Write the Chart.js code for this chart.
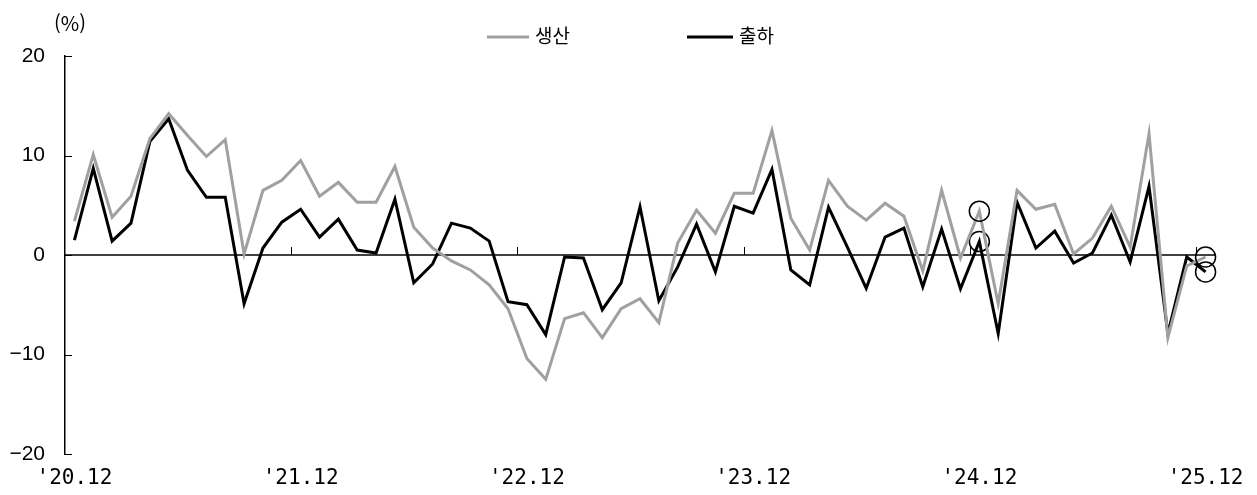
<!DOCTYPE html>
<html lang="ko">
<head>
<meta charset="utf-8">
<script src="https://cdn.jsdelivr.net/npm/chart.js@4.4.1/dist/chart.umd.min.js"></script>
<style>
  html, body { margin: 0; padding: 0; background: #fff; }
</style>
</head>
<body>
<canvas id="lineChart" width="1257" height="495"></canvas>
<script>
// 월 라벨 ('20.12 ~ '25.12)
var months = [];
for (var yr = 2020; yr <= 2025; yr++) {
    for (var mo = 1; mo <= 12; mo++) {
        if (yr === 2020 && mo < 12) continue;
        months.push("'" + String(yr).slice(2) + "." + (mo < 10 ? "0" + mo : mo));
    }
}
var tickLabels = ["'20.12", "'21.12", "'22.12", "'23.12", "'24.12", "'25.12"];

// 전년동월비 (%)
var production = [
    3.4, 10.1, 3.8, 5.9, 11.7, 14.2, 12.0, 9.9, 11.6, 0.1,
    6.5, 7.5, 9.5, 5.9, 7.3, 5.3, 5.3, 8.9, 2.8, 0.7,
    -0.6, -1.5, -3.0, -5.4, -10.4, -12.5, -6.4, -5.8, -8.3, -5.4,
    -4.4, -6.8, 1.2, 4.5, 2.2, 6.2, 6.2, 12.5, 3.7, 0.5,
    7.5, 4.9, 3.5, 5.2, 3.9, -1.6, 6.5, -0.3, 4.4, -4.9,
    6.5, 4.6, 5.1, 0.1, 1.7, 4.9, 0.8, 12.2, -8.3, -1.1, -0.2
];
var shipment = [
    1.5, 8.7, 1.4, 3.2, 11.4, 13.7, 8.5, 5.8, 5.8, -4.9,
    0.7, 3.3, 4.6, 1.8, 3.6, 0.5, 0.2, 5.6, -2.8, -0.9,
    3.2, 2.7, 1.4, -4.7, -5.0, -8.0, -0.2, -0.3, -5.5, -2.8,
    4.85, -4.6, -1.2, 3.1, -1.7, 4.9, 4.2, 8.6, -1.5, -3.0,
    4.8, 0.8, -3.35, 1.8, 2.7, -3.2, 2.6, -3.4, 1.35, -7.9,
    5.3, 0.7, 2.4, -0.8, 0.2, 4.0, -0.7, 6.9, -7.9, -0.2, -1.7
];
// 동그라미 표시 시점
var markedLabels = ["'24.12", "'25.12"];

function circleRadius(ctx) {
    return markedLabels.indexOf(months[ctx.dataIndex]) >= 0 ? 10 : 0;
}

var GRAY = '#a0a0a0';

// 0선, 눈금, 단위, 범례
var extras = {
    id: 'extras',
    beforeDatasetsDraw: function (chart) {
        var ctx = chart.ctx;
        var xs = chart.scales.x, ys = chart.scales.y, area = chart.chartArea;
        var y0 = ys.getPixelForValue(0);
        ctx.save();
        ctx.strokeStyle = '#000';
        ctx.lineWidth = 1.5;
        ctx.beginPath();
        ctx.moveTo(area.left, y0);
        ctx.lineTo(area.right, y0);
        ctx.stroke();

        ctx.lineWidth = 1;
        ctx.beginPath();
        for (var i = 12; i < months.length; i += 12) {
            var px = Math.round((xs.getPixelForValue(i - 1) + xs.getPixelForValue(i)) / 2) + 0.5;
            ctx.moveTo(px, y0);
            ctx.lineTo(px, y0 - 8);
        }
        ys.ticks.forEach(function (t) {
            var py = Math.round(ys.getPixelForValue(t.value)) + 0.5;
            ctx.moveTo(area.left, py);
            ctx.lineTo(area.left + 7, py);
        });
        ctx.stroke();
        ctx.restore();
    },
    afterDraw: function (chart) {
        var ctx = chart.ctx;
        ctx.save();
        ctx.fillStyle = '#000';
        ctx.font = '20px "Noto Sans CJK KR", sans-serif';
        ctx.textBaseline = 'middle';
        ctx.textAlign = 'left';
        ctx.fillText('(%)', 54, 23);

        var items = [
            { x: 487, len: 42, ds: chart.data.datasets[0] },
            { x: 687, len: 46, ds: chart.data.datasets[1] }
        ];
        ctx.font = '19px "Noto Sans CJK KR", sans-serif';
        items.forEach(function (it) {
            ctx.strokeStyle = it.ds.borderColor;
            ctx.lineWidth = 3;
            ctx.beginPath();
            ctx.moveTo(it.x, 37);
            ctx.lineTo(it.x + it.len, 37);
            ctx.stroke();
            ctx.fillText(it.ds.label, it.x + it.len + 6, 36);
        });
        ctx.restore();
    }
};

var lineChart = new Chart(document.getElementById('lineChart').getContext('2d'), {
    type: 'line',
    data: {
        labels: months,
        datasets: [{
            label: '생산',
            data: production,
            borderColor: GRAY,
            borderWidth: 3,
            pointRadius: circleRadius,
            pointBorderColor: '#000',
            pointBackgroundColor: 'rgba(0,0,0,0)',
            pointBorderWidth: 1.5,
            tension: 0
        }, {
            label: '출하',
            data: shipment,
            borderColor: '#000',
            borderWidth: 3,
            pointRadius: circleRadius,
            pointBorderColor: '#000',
            pointBackgroundColor: 'rgba(0,0,0,0)',
            pointBorderWidth: 1.5,
            tension: 0
        }]
    },
    options: {
        responsive: false,
        animation: false,
        devicePixelRatio: 1,
        layout: { padding: { top: 56, right: 42, bottom: 0, left: 0 } },
        plugins: {
            legend: { display: false },
            tooltip: { enabled: false }
        },
        scales: {
            x: {
                type: 'category',
                offset: true,
                grid: { display: false, drawTicks: false },
                border: { display: false },
                afterFit: function (scale) { scale.height = 41; },
                ticks: {
                    autoSkip: false,
                    maxRotation: 0,
                    padding: 12,
                    color: '#000',
                    font: { family: '"DejaVu Sans Mono", monospace', size: 21 },
                    callback: function (val, idx) {
                        var lab = months[idx];
                        return tickLabels.indexOf(lab) >= 0 ? lab : '';
                    }
                }
            },
            y: {
                min: -20,
                max: 20,
                grid: { display: false, drawTicks: false },
                border: { display: true, color: '#000', width: 1.5 },
                afterFit: function (scale) { scale.width = 65; },
                ticks: {
                    stepSize: 10,
                    padding: 20,
                    color: '#000',
                    font: { family: '"Liberation Sans", Arial, sans-serif', size: 21 },
                    callback: function (v) { return String(v).replace('-', '\u2212'); }
                }
            }
        }
    },
    plugins: [extras]
});
</script>
</body>
</html>
